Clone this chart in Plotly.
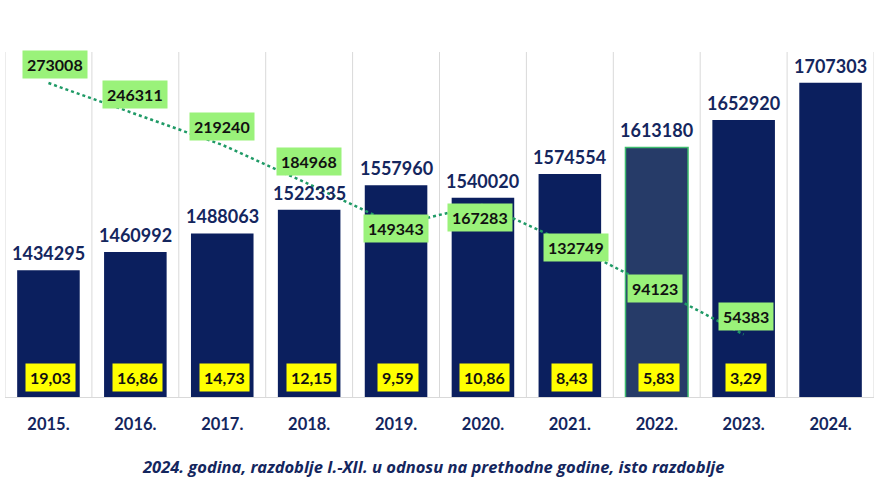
import plotly.graph_objects as go

years = ["2015.", "2016.", "2017.", "2018.", "2019.", "2020.", "2021.", "2022.", "2023.", "2024."]
totals = [1434295, 1460992, 1488063, 1522335, 1557960, 1540020, 1574554, 1613180, 1652920, 1707303]
differences = [273008, 246311, 219240, 184968, 149343, 167283, 132749, 94123, 54383]
growth_pct = ["19,03", "16,86", "14,73", "12,15", "9,59", "10,86", "8,43", "5,83", "3,29"]
title_text = "2024. godina, razdoblje I.-XII. u odnosu na prethodne godine, isto razdoblje"

NAVY = "#0b1f5e"
TEXT_NAVY = "#14265e"
FONT = "Lato"

y_min, y_max = 1250000, 1752000
y2_max = 300000

bar_colors = [NAVY] * len(years)
bar_colors[7] = "#263b68"
line_colors = [NAVY] * len(years)
line_colors[7] = "#3dbb6e"
line_widths = [0] * len(years)
line_widths[7] = 1.5

fig = go.Figure()
fig.add_trace(go.Bar(
    x=years, y=totals,
    marker=dict(color=bar_colors, line=dict(color=line_colors, width=line_widths)),
    hoverinfo="skip", showlegend=False,
))
fig.add_trace(go.Scatter(
    x=years[:len(differences)], y=differences, yaxis="y2",
    mode="lines", line=dict(color="#1f9a66", width=2.5, dash="dot"),
    hoverinfo="skip", showlegend=False,
))

annotations = []
# values above bars (x given as category index on the category axis)
for i, v in enumerate(totals):
    annotations.append(dict(
        x=i, y=v, xref="x", yref="y", text=f"<b>{v}</b>", showarrow=False,
        yanchor="bottom", yshift=4,
        font=dict(family=FONT, size=18, color=TEXT_NAVY),
    ))
# green difference labels
dx = [7, 0, 0, 0, 0, -3, 6, -2, 2]
dy = [19, 19, 18, 23, -3, -13, -3, 0, 18]
for i, d in enumerate(differences):
    annotations.append(dict(
        x=i, y=d, xref="x", yref="y2", text=f"<b>{d}</b>", showarrow=False,
        xshift=dx[i], yshift=dy[i], bgcolor="#9af27a", borderpad=4,
        font=dict(family=FONT, size=16, color="#111111"),
    ))
# yellow percent labels
for i, p in enumerate(growth_pct):
    annotations.append(dict(
        x=i, y=y_min, xref="x", yref="y", text=f"<b>{p}</b>", showarrow=False,
        yanchor="bottom", yshift=5, xshift=2, bgcolor="#ffff00", borderpad=4,
        font=dict(family=FONT, size=16, color="#111111"),
    ))
# bottom title
annotations.append(dict(
    x=0.4925, y=-0.2, xref="paper", yref="paper", showarrow=False,
    text=f"<b><i>{title_text}</i></b>", yanchor="middle",
    font=dict(family="Open Sans", size=16.5, color=TEXT_NAVY),
))

shapes = []
for i in range(len(years) + 1):
    shapes.append(dict(
        type="line", xref="x", yref="paper", x0=i - 0.5, x1=i - 0.5, y0=0, y1=1,
        line=dict(color="#d9d9d9", width=1), layer="below",
    ))

hidden_axis = dict(showticklabels=False, showgrid=False, zeroline=False, showline=False, ticks="")

fig.update_layout(
    width=885, height=491,
    margin=dict(l=5, r=11, t=52, b=94),
    paper_bgcolor="white", plot_bgcolor="white",
    bargap=0.28,
    xaxis=dict(
        type="category", range=[-0.5, 9.5], showgrid=False,
        showline=True, linecolor="#d9d9d9", linewidth=1,
        tickfont=dict(family=FONT, size=16.5, color=TEXT_NAVY),
        ticklabelstandoff=12, ticks="",
        tickprefix="<b>", ticksuffix="</b>",
    ),
    yaxis=dict(range=[y_min, y_max], **hidden_axis),
    yaxis2=dict(range=[0, y2_max], overlaying="y", **hidden_axis),
    annotations=annotations,
    shapes=shapes,
    font=dict(family=FONT),
)

fig.write_html("out.html", config={"displayModeBar": False},
               post_script="document.body.style.margin='0';")
